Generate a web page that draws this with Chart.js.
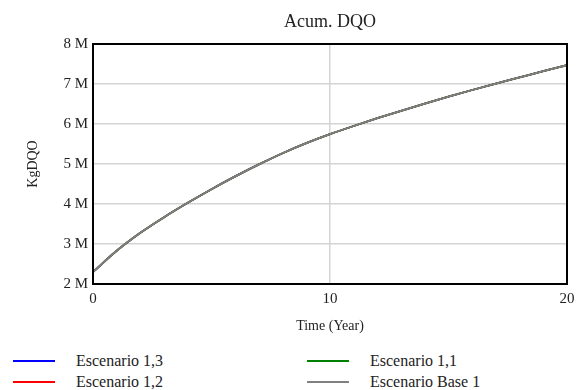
<!DOCTYPE html>
<html>
<head>
<meta charset="utf-8">
<script src="https://cdn.jsdelivr.net/npm/chart.js@4.4.0/dist/chart.umd.min.js"></script>
<style>
  body { margin: 0; background: #fff; }
  #wrap { position: relative; width: 584px; height: 390px; font-family: "Liberation Serif", "Times New Roman", serif; }
  #chart { position: absolute; left: 0; top: 0; }
  .leg { position: absolute; font-size: 16px; color: #222; line-height: 18px; }
  .leg .ln { position: absolute; left: 0; top: 8px; width: 42px; height: 2px; }
  .leg .tx { position: absolute; left: 63px; top: 0; white-space: nowrap; }
</style>
</head>
<body>
<div id="wrap">
  <canvas id="chart" width="584" height="345"></canvas>
  <div id="legend"></div>
</div>
<script>
// time in years
const years = [0,1,2,3,4,5,6,7,8,9,10,11,12,13,14,15,16,17,18,19,20]
// accumulated DQO, KgDQO (all scenarios overlap)
const baseValues = [2.30e6,2.83e6,3.28e6,3.67e6,4.03e6,4.37e6,4.69e6,4.99e6,5.27e6,5.52e6,5.745e6,5.95e6,6.145e6,6.33e6,6.51e6,6.685e6,6.85e6,7.01e6,7.165e6,7.32e6,7.47e6]
const esc13 = baseValues.slice()
const esc12 = baseValues.slice()
const esc11 = baseValues.slice()
const seriesNames = ['Escenario 1,3', 'Escenario 1,2', 'Escenario 1,1', 'Escenario Base 1']
const seriesColors = ['#0000ff', '#ff0000', '#008000', '#808080']
const yTicks = [2e6, 3e6, 4e6, 5e6, 6e6, 7e6, 8e6]
const xTicks = [0, 10, 20]

const serif = '"Liberation Serif", "Times New Roman", serif'
const allSeries = [esc13, esc12, esc11, baseValues]

// last series is drawn on top (lower order = on top)
const datasets = allSeries.map((vals, i) => ({
    label: seriesNames[i],
    data: vals.map((v, k) => ({ x: years[k], y: v })),
    borderColor: seriesColors[i],
    borderWidth: 1.8,
    pointRadius: 0,
    cubicInterpolationMode: 'monotone',
    order: allSeries.length - i,
    fill: false
}))

const frameAndTitle = {
    id: 'frameAndTitle',
    afterDraw(chart) {
        const { ctx, chartArea } = chart
        ctx.save()
        ctx.strokeStyle = '#000'
        ctx.lineWidth = 2
        ctx.strokeRect(chartArea.left, chartArea.top, chartArea.right - chartArea.left, chartArea.bottom - chartArea.top)
        ctx.fillStyle = '#222'
        ctx.font = '18px ' + serif
        ctx.textAlign = 'center'
        ctx.textBaseline = 'middle'
        ctx.fillText('Acum. DQO', (chartArea.left + chartArea.right) / 2, 22)
        ctx.restore()
    }
}

new Chart(document.getElementById('chart'), {
    type: 'line',
    data: { datasets: datasets },
    plugins: [frameAndTitle],
    options: {
        responsive: false,
        animation: false,
        layout: { padding: { top: 44, right: 17, left: 0, bottom: 0 } },
        plugins: { legend: { display: false }, title: { display: false }, tooltip: { enabled: false } },
        scales: {
            x: {
                type: 'linear',
                min: 0,
                max: 20,
                afterBuildTicks: (s) => { s.ticks = xTicks.map(v => ({ value: v })) },
                grid: { color: '#d4d4d4', drawTicks: false, lineWidth: 1.5 },
                border: { display: false },
                ticks: { color: '#222', font: { family: serif, size: 15 }, padding: 6, maxRotation: 0 },
                title: { display: true, text: 'Time (Year)', color: '#222', font: { family: serif, size: 14 }, padding: { top: 10, bottom: 10 } },
                afterFit: (s) => { s.height = 61 }
            },
            y: {
                min: 2e6,
                max: 8e6,
                afterBuildTicks: (s) => { s.ticks = yTicks.map(v => ({ value: v })) },
                grid: { color: '#d4d4d4', drawTicks: false, lineWidth: 1.5 },
                border: { display: false },
                ticks: { color: '#222', font: { family: serif, size: 15 }, padding: 5, callback: (v) => (v / 1e6) + ' M' },
                title: { display: true, text: 'KgDQO', color: '#222', font: { family: serif, size: 14 }, padding: { bottom: 0, top: 25 } },
                afterFit: (s) => { s.width = 93 }
            }
        }
    }
})

// legend, two columns like the original
const legendPos = [[13, 352], [13, 373], [307, 352], [307, 373]]
const leg = document.getElementById('legend')
seriesNames.forEach((name, i) => {
    const d = document.createElement('div')
    d.className = 'leg'
    d.style.left = legendPos[i][0] + 'px'
    d.style.top = legendPos[i][1] + 'px'
    d.innerHTML = '<div class="ln" style="background:' + seriesColors[i] + '"></div><div class="tx">' + name + '</div>'
    leg.appendChild(d)
})
</script>
</body>
</html>
